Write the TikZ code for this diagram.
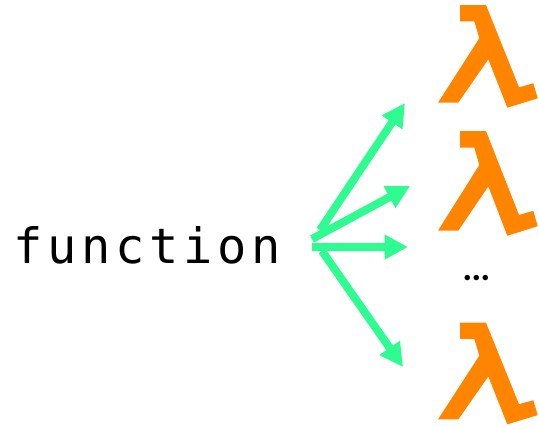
\documentclass[tikz,border=0pt]{standalone}
\usepackage{fontspec}
\usetikzlibrary{arrows.meta}
\newfontfamily\funcfont[LetterSpace=9.7]{DejaVu Sans Mono}
\setmainfont{Lato}
\definecolor{fanoutgreen}{HTML}{2EFB90}
\definecolor{lambdaorange}{HTML}{FF8400}
\tikzset{
	fanout/.style={color=fanoutgreen,line width=6pt,-{Triangle[length=17.5pt,width=17.5pt]}},
	lambdashape/.style={fill=lambdaorange}
}

\begin{document}
\begin{tikzpicture}[x=0.75pt,y=-0.75pt]
		\useasboundingbox (0,0) rectangle (539,426);
		\foreach \y/\s in {0/1,125.9/1.02,317.75/0.99} % one lambda for each height
		\fill[lambdashape,shift={(0,\y)},yscale=\s] (460,5) -- (486,5) -- (519,87.3) -- (533.3,83.3) -- (537.7,98.3) -- (507.3,107.7) -- (488.3,59.3) -- (458.3,102.7) -- (438,102.7) -- (479.3,38.3) -- (474.3,21.3) -- (460,21.3) -- cycle;
		\node[anchor=base west,inner sep=0pt,font=\funcfont\fontsize{36.5pt}{36.5pt}\selectfont] (function) at (13,263) {function};
		\node[anchor=base,inner sep=0pt,font=\bfseries\fontsize{27pt}{27pt}\selectfont] (dots) at (476.7,280.5) {...};
		% start and end of the arrows
		\coordinate (s1) at (320,230);
		\coordinate (e1) at (405,103);
		\coordinate (s2) at (312,239);
		\coordinate (e2) at (410,186);
		\coordinate (s3) at (312,247);
		\coordinate (e3) at (408,247);
		\coordinate (s4) at (322,251);
		\coordinate (e4) at (403,367);
		\foreach \i in {1,2,3,4}
		\draw[fanout] (s\i) -- (e\i);
	\end{tikzpicture}
\end{document}
